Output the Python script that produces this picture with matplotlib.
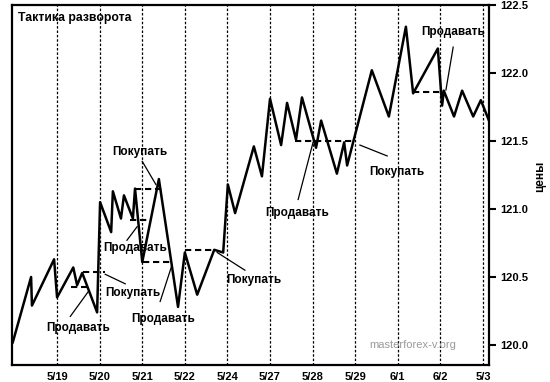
import matplotlib.pyplot as plt

plt.rcParams['font.family'] = ['Liberation Sans', 'DejaVu Sans']

# day labels (one dotted line per day)
days = ['5/19', '5/20', '5/21', '5/22', '5/24', '5/27', '5/28', '5/29', '6/1', '6/2', '5/3']
day_pos = list(range(1, len(days) + 1))

# price path: position in days, price
t = [-0.04, 0.39, 0.41, 0.93, 1.00, 1.38, 1.47, 1.59, 1.94, 2.01, 2.27, 2.31, 2.50,
     2.57, 2.78, 2.83, 3.00, 3.39, 3.84, 4.00, 4.29, 4.69, 4.90, 5.01, 5.18, 5.62,
     5.81, 6.00, 6.26, 6.40, 6.61, 6.75, 7.08, 7.20, 7.57, 7.74, 7.81, 8.39, 8.79,
     9.19, 9.36, 9.94, 10.04, 10.08, 10.32, 10.51, 10.77, 10.95, 11.14]
price = [120.02, 120.50, 120.29, 120.63, 120.35, 120.57, 120.44, 120.53, 120.24,
         121.05, 120.83, 121.13, 120.93, 121.10, 120.93, 121.15, 120.61, 121.22,
         120.28, 120.68, 120.37, 120.70, 120.68, 121.18, 120.97, 121.46, 121.24,
         121.81, 121.47, 121.78, 121.51, 121.82, 121.45, 121.65, 121.26, 121.49,
         121.32, 122.02, 121.68, 122.34, 121.85, 122.18, 121.76, 121.87, 121.68,
         121.87, 121.68, 121.80, 121.65]

# dashed signal levels: start, end, level
lvl_start = [1.33, 1.61, 2.83, 2.71, 3.02, 4.00, 6.59, 9.36]
lvl_end = [1.70, 2.13, 3.54, 3.18, 3.70, 4.71, 7.95, 10.06]
lvl_price = [120.43, 120.54, 121.15, 120.92, 120.61, 120.70, 121.50, 121.86]

# annotations: text, text centre, leader start, leader end
notes = ['Покупать', 'Продавать', 'Покупать', 'Продавать', 'Продавать',
         'Покупать', 'Продавать', 'Покупать', 'Продавать']
note_xy = [(2.95, 121.42), (2.83, 120.71), (2.78, 120.38), (1.49, 120.125),
           (3.49, 120.19), (5.62, 120.48), (6.63, 120.97), (8.98, 121.27),
           (10.30, 122.30)]
lead_from = [(3.00, 121.35), (2.64, 120.77), (2.13, 120.52), (1.31, 120.21),
             (3.42, 120.32), (4.76, 120.68), (6.66, 121.07), (8.11, 121.47),
             (10.30, 122.19)]
lead_to = [(3.32, 121.18), (2.88, 120.87), (2.60, 120.45), (1.75, 120.40),
           (3.70, 120.59), (5.41, 120.55), (7.01, 121.49), (8.75, 121.39),
           (10.13, 121.875)]

fig = plt.figure(figsize=(5.5, 3.82), dpi=100)
ax = fig.add_axes([0.022, 0.0445, 0.867, 0.9425])

for d in day_pos:
    ax.axvline(d, color='black', linestyle=(0, (2, 1.5)), linewidth=0.9, zorder=1)

ax.plot(t, price, color='black', linewidth=1.8, zorder=3)

for s, e, p in zip(lvl_start, lvl_end, lvl_price):
    ax.plot([s, e], [p, p], color='black', linewidth=1.5,
            linestyle=(0, (3, 1.8)), zorder=2)

for txt, c, a, b in zip(notes, note_xy, lead_from, lead_to):
    ax.plot([a[0], b[0]], [a[1], b[1]], color='black', linewidth=0.9, zorder=2)
    ax.text(c[0], c[1], txt, ha='center', va='center', fontsize=8.5,
            fontweight='bold', zorder=4)

ax.text(0.013, 0.965, 'Тактика разворота', transform=ax.transAxes,
        fontsize=8.8, fontweight='bold', ha='left', va='center')
ax.text(0.84, 0.055, 'masterforex-v.org', transform=ax.transAxes,
        fontsize=8, color='#9a9a9a', ha='center', va='center')

ax.set_xlim(-0.056, 11.14)
ax.set_ylim(119.853, 122.5)
ax.set_xticks(day_pos)
ax.set_xticklabels(days, fontsize=8, fontweight='bold')
ax.tick_params(axis='x', length=0, pad=5)

ax.yaxis.tick_right()
ax.yaxis.set_label_position('right')
ax.set_yticks([120.0, 120.5, 121.0, 121.5, 122.0, 122.5])
ax.set_yticklabels(['120.0', '120.5', '121.0', '121.5', '122.0', '122.5'],
                   fontsize=8, fontweight='bold')
ax.tick_params(axis='y', length=5, width=1.5, direction='out', pad=3)
ax.set_ylabel('цены', fontsize=8.5, fontweight='bold', rotation=90, va='center')
ax.yaxis.set_label_coords(1.107, 0.525)

for sp in ax.spines.values():
    sp.set_linewidth(1.6)

fig.savefig('out.png', dpi=100)
